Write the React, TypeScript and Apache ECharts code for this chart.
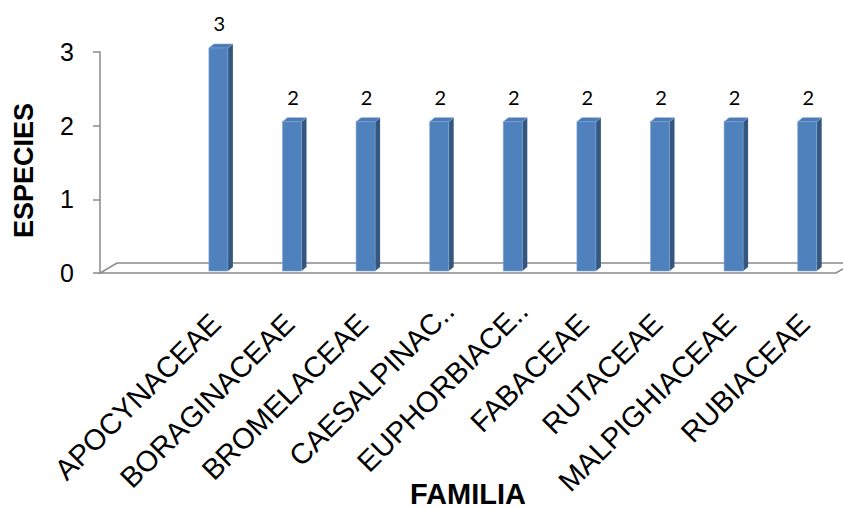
import React, { useEffect, useRef } from "react";
import * as echarts from "echarts";

const families = [
  "APOCYNACEAE",
  "BORAGINACEAE",
  "BROMELACEAE",
  "CAESALPINAC..",
  "EUPHORBIACE..",
  "FABACEAE",
  "RUTACEAE",
  "MALPIGHIACEAE",
  "RUBIACEAE",
];
const species = [3, 2, 2, 2, 2, 2, 2, 2, 2];
const categories = ["", ...families];
const yTicks = [0, 1, 2, 3];

const FRONT = "#4F81BD";
const SIDE = "#34577F";
const TOP = "#4A7AB5";
const AXIS = "#8A8A8A";
const LABEL_FONT = { fontSize: 29, fontFamily: "Liberation Sans", color: "#000" };

export default function App() {
  const ref = useRef<HTMLDivElement>(null);
  useEffect(() => {
    document.body.style.margin = "0";
    if (!ref.current) return;
    const chart = echarts.init(ref.current, undefined, { renderer: "svg" });
    const barData = species.map((v, i) => [i + 1, v]);
    const gridBase = { top: 52, bottom: 235, containLabel: false, outerBoundsMode: "none" };
    chart.setOption({
      animation: false,
      backgroundColor: "#ffffff",
      grid: [
        { ...gridBase, left: 100, right: 7 },
        { ...gridBase, left: 118, right: -11 },
      ],
      xAxis: [
        {
          type: "category",
          gridIndex: 0,
          data: categories,
          boundaryGap: true,
          axisLine: { show: false },
          axisTick: { show: false },
          axisLabel: { show: false },
          name: "FAMILIA",
          nameLocation: "middle",
          nameGap: 206,
          nameTextStyle: {
            fontSize: 29,
            fontWeight: "bold",
            fontFamily: "Liberation Sans",
            color: "#000",
          },
        },
        {
          type: "category",
          gridIndex: 1,
          data: categories,
          boundaryGap: true,
          axisLine: { show: false },
          axisTick: { show: false },
          axisLabel: {
            interval: 0,
            rotate: 45,
            margin: 33,
            ...LABEL_FONT,
            formatter: (val: string) => {
              if (!val) return "";
              return val.endsWith("..") ? "{t|" + val + "}" : "{n|" + val + "}";
            },
            rich: {
              n: { ...LABEL_FONT, padding: [0, 18, 0, 0] },
              t: { ...LABEL_FONT, padding: [0, 0, 0, 0] },
            },
          },
        },
      ],
      yAxis: [
        {
          type: "value",
          gridIndex: 0,
          min: yTicks[0],
          max: yTicks[yTicks.length - 1],
          interval: 1,
          splitLine: { show: false },
          axisLine: { show: true, lineStyle: { color: AXIS, width: 1.5 } },
          axisTick: { show: true, length: 7, lineStyle: { color: AXIS, width: 1.5 } },
          axisLabel: {
            margin: 26,
            fontSize: 25,
            fontFamily: "Liberation Sans",
            color: "#000",
          },
          name: "ESPECIES",
          nameLocation: "middle",
          nameGap: 63,
          nameTextStyle: {
            fontSize: 27,
            fontWeight: "bold",
            fontFamily: "Liberation Sans",
            color: "#000",
            padding: [0, 16, 0, 0],
          },
        },
        {
          type: "value",
          gridIndex: 1,
          min: yTicks[0],
          max: yTicks[yTicks.length - 1],
          interval: 1,
          show: false,
        },
      ],
      series: [
        {
          type: "custom",
          z: 1,
          xAxisIndex: 0,
          yAxisIndex: 0,
          data: [[0, 0]],
          renderItem: (params: any, api: any) => {
            const cs = params.coordSys;
            const x0 = cs.x;
            const x1 = cs.x + cs.width;
            const yb = api.coord([0, 0])[1];
            const dx = 17;
            const dy = 10;
            return {
              type: "polygon",
              shape: {
                points: [
                  [x0, yb],
                  [x1, yb],
                  [x1 + dx, yb - dy],
                  [x0 + dx, yb - dy],
                ],
              },
              style: { fill: "#ffffff", stroke: AXIS, lineWidth: 1.5 },
            };
          },
        },
        {
          type: "custom",
          z: 2,
          xAxisIndex: 0,
          yAxisIndex: 0,
          data: barData,
          encode: { x: 0, y: 1 },
          renderItem: (params: any, api: any) => {
            const idx = api.value(0);
            const v = api.value(1);
            const base = api.coord([idx, 0]);
            const top = api.coord([idx, v]);
            const cx = base[0] + 8;
            const yb = base[1] - 2;
            const yt = top[1] - 4;
            const w = 19;
            const dx = 5;
            const dy = 4;
            const l = cx - w / 2;
            const r = cx + w / 2;
            return {
              type: "group",
              children: [
                {
                  type: "polygon",
                  shape: { points: [[r, yt], [r + dx, yt - dy], [r + dx, yb - dy], [r, yb]] },
                  style: { fill: SIDE },
                },
                {
                  type: "polygon",
                  shape: { points: [[l, yt], [l + dx, yt - dy], [r + dx, yt - dy], [r, yt]] },
                  style: { fill: TOP, stroke: "#7FA3D1", lineWidth: 0.6 },
                },
                {
                  type: "rect",
                  shape: { x: l, y: yt, width: w, height: yb - yt },
                  style: { fill: FRONT, stroke: "#7EA2D0", lineWidth: 0.6 },
                },
                {
                  type: "text",
                  style: {
                    text: String(v),
                    x: cx + 1,
                    y: yt - 25,
                    align: "center",
                    verticalAlign: "middle",
                    fontSize: 20,
                    fontFamily: "Lato",
                    fill: "#000",
                  },
                },
              ],
            };
          },
        },
      ],
    });
    return () => chart.dispose();
  }, []);
  return <div ref={ref} style={{ width: 843, height: 508 }} />;
}
